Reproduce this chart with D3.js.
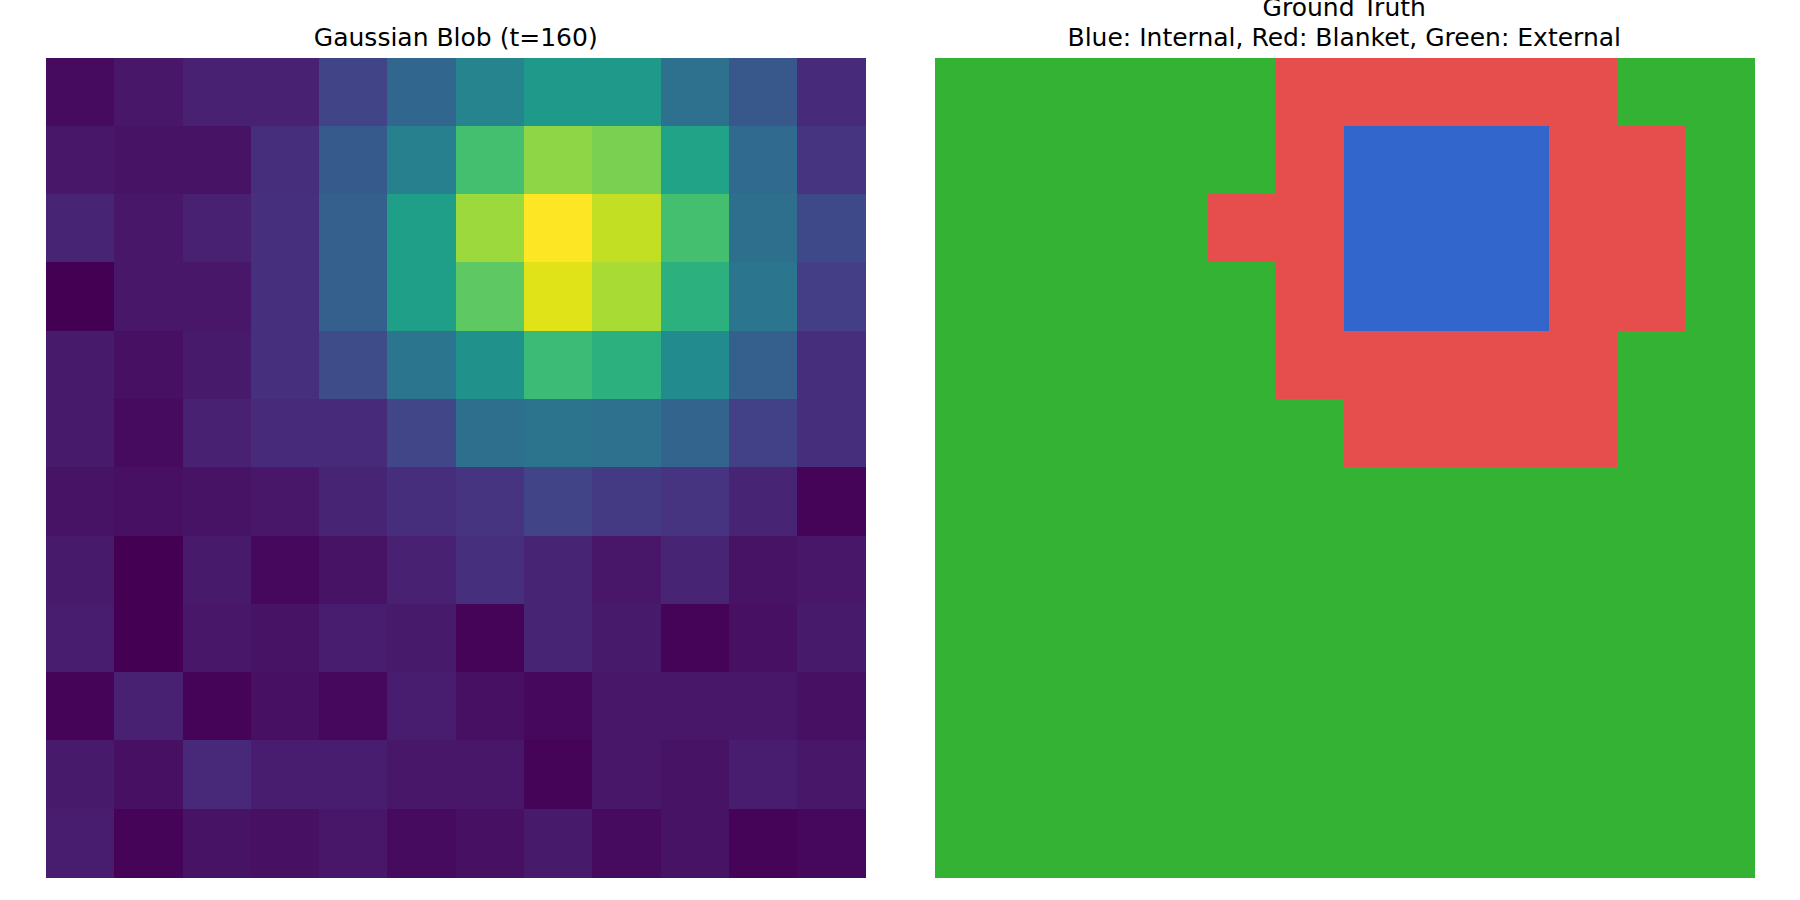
<!DOCTYPE html>
<html>
<head>
<meta charset="utf-8">
<script src="https://cdn.jsdelivr.net/npm/d3@7"></script>
<style>
  html, body { margin: 0; padding: 0; background: #fff; }
  svg { display: block; }
  text { font-family: "DejaVu Sans", sans-serif; fill: #000; }
</style>
</head>
<body>
<svg id="chart" width="1800" height="900"></svg>
<script>
// ---- data ----
const leftTitle = "Gaussian Blob (t=160)";
const rightTitleLines = ["Ground Truth", "Blue: Internal, Red: Blanket, Green: External"];
const rows = d3.range(12);
const cols = d3.range(12);

const blob = [
  [0.03,0.06,0.09,0.09,0.20,0.33,0.45,0.54,0.54,0.37,0.27,0.12],
  [0.06,0.05,0.05,0.13,0.28,0.43,0.70,0.83,0.80,0.58,0.34,0.15],
  [0.10,0.06,0.09,0.14,0.30,0.56,0.85,1.00,0.91,0.70,0.36,0.22],
  [0.00,0.06,0.06,0.14,0.30,0.56,0.75,0.95,0.87,0.64,0.39,0.18],
  [0.07,0.04,0.07,0.14,0.23,0.39,0.50,0.68,0.64,0.48,0.30,0.13],
  [0.07,0.03,0.09,0.12,0.12,0.21,0.36,0.38,0.37,0.32,0.19,0.13],
  [0.05,0.04,0.05,0.06,0.10,0.13,0.15,0.20,0.17,0.15,0.10,0.01],
  [0.07,0.00,0.07,0.02,0.05,0.09,0.14,0.10,0.06,0.10,0.05,0.06],
  [0.08,0.00,0.06,0.05,0.08,0.07,0.01,0.10,0.07,0.01,0.04,0.07],
  [0.01,0.09,0.01,0.04,0.02,0.08,0.04,0.02,0.06,0.06,0.06,0.04],
  [0.07,0.04,0.11,0.08,0.08,0.06,0.06,0.01,0.06,0.05,0.08,0.06],
  [0.08,0.01,0.05,0.04,0.06,0.03,0.04,0.07,0.03,0.05,0.01,0.02]
];

// Ground truth labels: 0 = External (green), 1 = Blanket (red), 2 = Internal (blue)
const truth = [
  [0,0,0,0,0,1,1,1,1,1,0,0],
  [0,0,0,0,0,1,2,2,2,1,1,0],
  [0,0,0,0,1,1,2,2,2,1,1,0],
  [0,0,0,0,0,1,2,2,2,1,1,0],
  [0,0,0,0,0,1,1,1,1,1,0,0],
  [0,0,0,0,0,0,1,1,1,1,0,0],
  [0,0,0,0,0,0,0,0,0,0,0,0],
  [0,0,0,0,0,0,0,0,0,0,0,0],
  [0,0,0,0,0,0,0,0,0,0,0,0],
  [0,0,0,0,0,0,0,0,0,0,0,0],
  [0,0,0,0,0,0,0,0,0,0,0,0],
  [0,0,0,0,0,0,0,0,0,0,0,0]
];
const truthLabels = [0, 1, 2];
const truthColors = ["#34b234", "#e64d4d", "#3366cc"];

// ---- layout ----
const svg = d3.select("#chart");
const size = 819.5;
const panels = [
  { x0: 46, y0: 57.5 },
  { x0: 934.5, y0: 57.5 }
];

const flat = blob.flat();
const colorBlob = d3.scaleSequential(d3.interpolateViridis)
  .domain([d3.min(flat), d3.max(flat)]);
const colorTruth = d3.scaleOrdinal().domain(truthLabels).range(truthColors);

function drawGrid(panel, grid, colorFn) {
  const x = d3.scaleBand().domain(cols).range([panel.x0, panel.x0 + size]);
  const y = d3.scaleBand().domain(rows).range([panel.y0, panel.y0 + size]);
  const cells = [];
  rows.forEach(r => cols.forEach(c => cells.push({ r, c, v: grid[r][c] })));
  svg.append("g")
    .attr("shape-rendering", "crispEdges")
    .selectAll("rect")
    .data(cells)
    .join("rect")
    .attr("x", d => x(d.c))
    .attr("y", d => y(d.r))
    .attr("width", x.bandwidth() + 0.5)
    .attr("height", y.bandwidth() + 0.5)
    .attr("fill", d => colorFn(d.v));
  return { x, y };
}

drawGrid(panels[0], blob, colorBlob);
drawGrid(panels[1], truth, colorTruth);

// ---- titles ----
svg.append("text")
  .attr("x", panels[0].x0 + size / 2)
  .attr("y", 45.5)
  .attr("text-anchor", "middle")
  .attr("font-size", 25)
  .text(leftTitle);

svg.append("g")
  .selectAll("text")
  .data(rightTitleLines)
  .join("text")
  .attr("x", panels[1].x0 + size / 2)
  .attr("y", (d, i) => 15.5 + i * 30)
  .attr("text-anchor", "middle")
  .attr("font-size", 25)
  .text(d => d);
</script>
</body>
</html>
